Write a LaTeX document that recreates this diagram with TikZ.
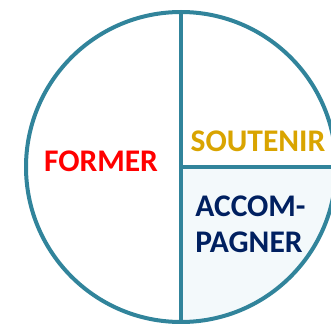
\documentclass[tikz,border=0pt]{standalone}
\usepackage{fontspec}
\setmainfont{Carlito}
\definecolor{ringblue}{HTML}{31849B}
\definecolor{quadfill}{HTML}{F3F9FB}
\definecolor{gold}{HTML}{D9A400}
\definecolor{navy}{HTML}{002060}

\begin{document}
\begin{tikzpicture}[x=1pt,y=-1pt,
    ring/.style={ringblue,line width=4pt},
    word/.style={inner sep=0pt,font=\fontsize{31.5}{36}\selectfont\bfseries}]
    \useasboundingbox (0,0) rectangle (331,323);
    \clip (0,0) rectangle (331,323);
    \coordinate (O) at (181,167); % centre of the circle
    \coordinate (T) at (181,12);
    \coordinate (B) at (181,322);
    \coordinate (R) at (336,167);
    % light lower right quarter
    \begin{scope}
        \clip (O) rectangle (340,330);
        \fill[quadfill] (O) circle (155pt);
    \end{scope}
    \draw[ring] (O) circle (155pt);
    \draw[ring] (T) -- (B); % vertical split
    \draw[ring] (O) -- (R); % horizontal split
    % Text nodes
    \node[word,red] (former) at (101,161) {FORMER};
    \node[word,gold] (soutenir) at (258,141) {SOUTENIR};
    \node[word,navy,align=left] (accomp) at (250.5,224.5) {ACCOM-\\PAGNER};
\end{tikzpicture}
\end{document}
